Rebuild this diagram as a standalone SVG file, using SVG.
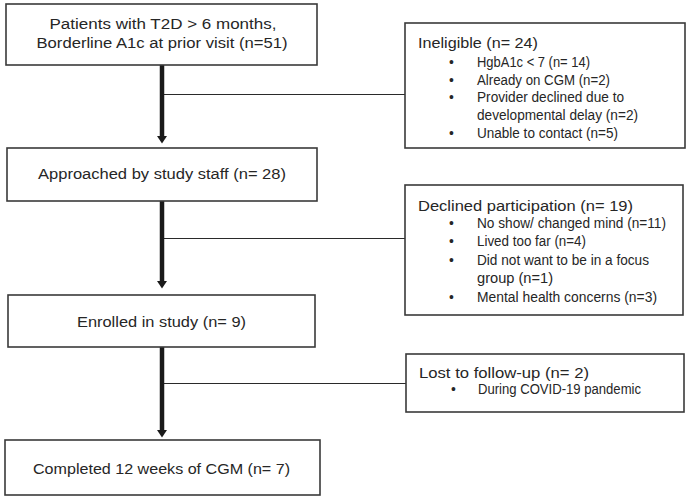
<svg xmlns="http://www.w3.org/2000/svg" width="688" height="499" viewBox="0 0 688 499">
<style>
.box{fill:#fff;stroke:#3a3a3a;stroke-width:1.6}
.t{font-family:"Liberation Sans",Arial,sans-serif;fill:#262626}
.m{font-size:15.5px;text-anchor:middle}
.h{font-size:15.5px}
.s{font-size:13.8px}
.main{stroke:#1a1a1a;stroke-width:4.5;fill:none}
.br{stroke:#2a2a2a;stroke-width:1.1;fill:none}
</style>
<g id="connectors">
<line class="br" x1="164" y1="94.5" x2="405" y2="94.5"/>
<line class="br" x1="164" y1="238.5" x2="405" y2="238.5"/>
<line class="br" x1="164" y1="383.5" x2="406" y2="383.5"/>
<line class="main" x1="162" y1="65" x2="162" y2="137"/>
<path d="M157,136 L167,136 L162,143.5 Z" fill="#1a1a1a"/>
<line class="main" x1="162" y1="201" x2="162" y2="282"/>
<path d="M157,281 L167,281 L162,288.5 Z" fill="#1a1a1a"/>
<line class="main" x1="162" y1="347" x2="162" y2="431"/>
<path d="M157,430 L167,430 L162,437.5 Z" fill="#1a1a1a"/>
</g>
<g id="n1">
<rect class="box" x="6" y="4" width="311" height="61"/>
<text class="t m" x="163" y="29" textLength="227" lengthAdjust="spacingAndGlyphs">Patients with T2D &gt; 6 months,</text>
<text class="t m" x="162" y="48" textLength="251" lengthAdjust="spacingAndGlyphs">Borderline A1c at prior visit (n=51)</text>
</g>
<g id="n2">
<rect class="box" x="7" y="148" width="310" height="53"/>
<text class="t m" x="162" y="179" textLength="248" lengthAdjust="spacingAndGlyphs">Approached by study staff (n= 28)</text>
</g>
<g id="n3">
<rect class="box" x="8" y="295" width="307" height="52"/>
<text class="t m" x="161.5" y="327" textLength="169" lengthAdjust="spacingAndGlyphs">Enrolled in study (n= 9)</text>
</g>
<g id="n4">
<rect class="box" x="5" y="440" width="315" height="55"/>
<text class="t m" x="161.5" y="474" textLength="257" lengthAdjust="spacingAndGlyphs">Completed 12 weeks of CGM (n= 7)</text>
</g>
<g id="ineligible">
<rect class="box" x="405" y="23" width="280" height="125"/>
<text class="t h" x="418" y="48" textLength="120" lengthAdjust="spacingAndGlyphs">Ineligible (n= 24)</text>
<text class="t s" x="449" y="67">•</text>
<text class="t s" x="477" y="67" textLength="113" lengthAdjust="spacingAndGlyphs">HgbA1c &lt; 7 (n= 14)</text>
<text class="t s" x="449" y="85">•</text>
<text class="t s" x="477" y="85" textLength="133" lengthAdjust="spacingAndGlyphs">Already on CGM (n=2)</text>
<text class="t s" x="449" y="102">•</text>
<text class="t s" x="477" y="102" textLength="147" lengthAdjust="spacingAndGlyphs">Provider declined due to</text>
<text class="t s" x="477" y="120" textLength="161" lengthAdjust="spacingAndGlyphs">developmental delay (n=2)</text>
<text class="t s" x="449" y="138">•</text>
<text class="t s" x="477" y="138" textLength="141" lengthAdjust="spacingAndGlyphs">Unable to contact (n=5)</text>
</g>
<g id="declined">
<rect class="box" x="405" y="185" width="278" height="130"/>
<text class="t h" x="418" y="211" textLength="215" lengthAdjust="spacingAndGlyphs">Declined participation (n= 19)</text>
<text class="t s" x="449" y="228">•</text>
<text class="t s" x="477" y="228" textLength="189" lengthAdjust="spacingAndGlyphs">No show/ changed mind (n=11)</text>
<text class="t s" x="449" y="246">•</text>
<text class="t s" x="477" y="246" textLength="109" lengthAdjust="spacingAndGlyphs">Lived too far (n=4)</text>
<text class="t s" x="449" y="265">•</text>
<text class="t s" x="477" y="265" textLength="172" lengthAdjust="spacingAndGlyphs">Did not want to be in a focus</text>
<text class="t s" x="477" y="283" textLength="76" lengthAdjust="spacingAndGlyphs">group (n=1)</text>
<text class="t s" x="449" y="302">•</text>
<text class="t s" x="477" y="302" textLength="180" lengthAdjust="spacingAndGlyphs">Mental health concerns (n=3)</text>
</g>
<g id="lost">
<rect class="box" x="406" y="354" width="278" height="58"/>
<text class="t h" x="419" y="378" textLength="170" lengthAdjust="spacingAndGlyphs">Lost to follow-up (n= 2)</text>
<text class="t s" x="451" y="394">•</text>
<text class="t s" x="478" y="394" textLength="163" lengthAdjust="spacingAndGlyphs">During COVID-19 pandemic</text>
</g>
</svg>
